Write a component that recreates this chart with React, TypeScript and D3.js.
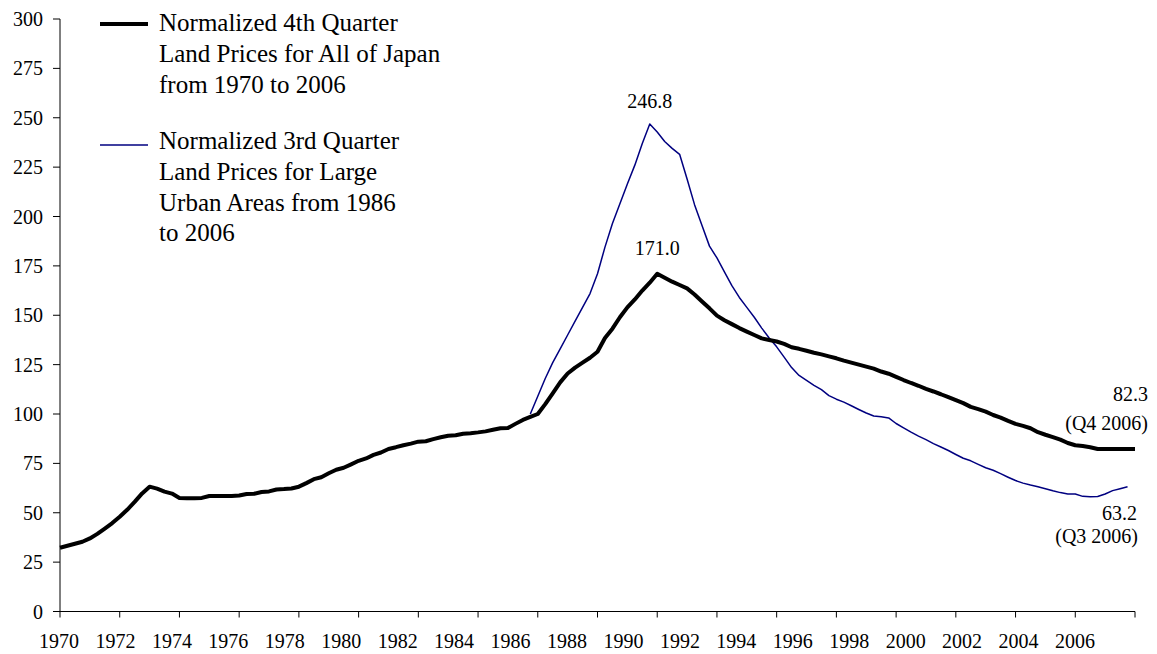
import React from "react";
import * as d3 from "d3";

// Quarterly index 0..144 (black), blue series starts at index 63
const allJapan: number[] = [
  32.3, 33.3, 34.3, 35.3, 37.0, 39.3, 42.0, 44.8, 48.0, 51.5,
  55.5, 59.8, 63.2, 62.2, 60.7, 59.7, 57.5, 57.3, 57.3, 57.5,
  58.5, 58.5, 58.5, 58.5, 58.7, 59.5, 59.6, 60.5, 60.8, 61.8,
  62.0, 62.3, 63.2, 65.0, 67.0, 68.0, 70.0, 71.8, 72.8, 74.5,
  76.3, 77.5, 79.3, 80.5, 82.3, 83.2, 84.2, 85.0, 86.0, 86.2,
  87.3, 88.2, 89.0, 89.2, 90.0, 90.3, 90.7, 91.2, 92.0, 92.8,
  92.9, 95.0, 97.0, 98.5, 100.0, 105.0, 110.5, 116.0, 120.5, 123.5,
  126.0, 128.5, 131.5, 138.5, 143.2, 149.0, 154.0, 158.0, 162.5, 166.5,
  171.0, 169.0, 167.0, 165.3, 163.6, 160.5, 157.0, 153.5, 149.8, 147.5,
  145.5, 143.5, 141.7, 140.0, 138.3, 137.5, 136.7, 135.5, 133.8, 133.0,
  132.0, 131.0, 130.2, 129.2, 128.2, 127.0, 126.0, 125.0, 124.0, 123.0,
  121.5, 120.4, 118.8, 117.2, 115.7, 114.3, 112.7, 111.4, 110.0, 108.5,
  107.0, 105.5, 103.6, 102.5, 101.2, 99.5, 98.2, 96.5, 95.0, 94.0,
  92.8, 90.8, 89.5, 88.3, 87.0, 85.3, 84.2, 83.8, 83.2, 82.3,
  82.3, 82.3, 82.3, 82.3, 82.3,
];

const urbanStart = 63;
const urbanAreas: number[] = [
  100.0, 109.0, 118.0, 126.0, 133.0, 140.0, 147.0, 154.0, 161.0, 171.0,
  184.5, 196.5, 206.5, 216.5, 226.0, 237.0, 246.8, 242.8, 238.0, 234.5,
  231.5, 219.0, 206.0, 195.5, 185.0, 179.0, 172.0, 165.0, 159.0, 154.0,
  149.0, 143.5, 138.5, 134.0, 128.8, 123.5, 119.5, 117.0, 114.5, 112.3,
  109.3, 107.5, 106.0, 104.2, 102.3, 100.5, 99.0, 98.6, 98.0, 95.2,
  93.0, 90.8, 88.8, 87.0, 85.0, 83.3, 81.5, 79.5, 77.6, 76.3,
  74.5, 72.8, 71.5, 69.8, 68.0, 66.3, 65.0, 64.0, 63.2, 62.2,
  61.1, 60.2, 59.5, 59.5, 58.3, 58.1, 58.2, 59.5, 61.2, 62.2,
  63.2,
];

const yearLabels: string[] = [
  "1970", "1972", "1974", "1976", "1978", "1980", "1982", "1984", "1986", "1988",
  "1990", "1992", "1994", "1996", "1998", "2000", "2002", "2004", "2006",
];
const yTicks: number[] = [0, 25, 50, 75, 100, 125, 150, 175, 200, 225, 250, 275, 300];

const legend1: string[] = [
  "Normalized 4th Quarter",
  "Land Prices for All of Japan",
  "from 1970 to 2006",
];
const legend2: string[] = [
  "Normalized 3rd Quarter",
  "Land Prices for Large",
  "Urban Areas from 1986",
  "to 2006",
];

const FONT = "'Liberation Serif', 'Times New Roman', serif";
const BLUE = "#000080";

export default function App() {
  const W = 1157;
  const H = 654;
  const x0 = 60, x1 = 1135, y0 = 611.5, y1 = 19;
  const x = d3.scaleLinear().domain([0, allJapan.length - 1]).range([x0, x1]);
  const y = d3.scaleLinear().domain([0, 300]).range([y0, y1]);
  const labelX = d3.scalePoint<string>().domain(yearLabels).range([59, 1075]);
  const tickIdx = d3.range(0, allJapan.length, 8);

  const line = d3
    .line<[number, number]>()
    .x((d) => x(d[0]))
    .y((d) => y(d[1]));

  const blackPts: [number, number][] = allJapan.map((v, i) => [i, v]);
  const bluePts: [number, number][] = urbanAreas.map((v, i) => [i + urbanStart, v]);

  const blackMaxI = d3.maxIndex(allJapan);
  const blueMaxI = d3.maxIndex(urbanAreas);

  return (
    <svg
      width={W}
      height={H}
      style={{ position: "absolute", left: 0, top: 0, background: "#fff" }}
      fontFamily={FONT}
    >
      {/* Y axis */}
      <line x1={x0} x2={x0} y1={y1} y2={y0} stroke="#000" strokeWidth={1} />
      {yTicks.map((t) => (
        <g key={t}>
          <line x1={x0 - 7} x2={x0} y1={y(t)} y2={y(t)} stroke="#000" />
          <text x={43} y={y(t)} dy="0.35em" textAnchor="end" fontSize={20}>
            {t}
          </text>
        </g>
      ))}
      {/* X axis */}
      <line x1={x0} x2={x1} y1={y0} y2={y0} stroke="#000" strokeWidth={1} />
      {tickIdx.map((i) => (
        <line key={i} x1={x(i)} x2={x(i)} y1={y0} y2={y0 + 6} stroke="#000" />
      ))}
      {yearLabels.map((l) => (
        <text key={l} x={labelX(l)} y={648} textAnchor="middle" fontSize={20}>
          {l}
        </text>
      ))}

      {/* Lines */}
      <path d={line(bluePts) || ""} fill="none" stroke={BLUE} strokeWidth={1.5} strokeLinejoin="round" />
      <path d={line(blackPts) || ""} fill="none" stroke="#000" strokeWidth={4} strokeLinejoin="round" />

      {/* Legend */}
      <line x1={100} x2={148} y1={24} y2={24} stroke="#000" strokeWidth={4} />
      {legend1.map((s, k) => (
        <text key={s} x={159} y={31 + k * 31} fontSize={25}>
          {s}
        </text>
      ))}
      <line x1={100} x2={148} y1={145} y2={145} stroke={BLUE} strokeWidth={1.5} />
      {legend2.map((s, k) => (
        <text key={s} x={159} y={149 + k * 30.8} fontSize={25}>
          {s}
        </text>
      ))}

      {/* Annotations */}
      <text x={x(blueMaxI + urbanStart)} y={108} textAnchor="middle" fontSize={20}>
        {urbanAreas[blueMaxI].toFixed(1)}
      </text>
      <text x={x(blackMaxI)} y={255} textAnchor="middle" fontSize={20}>
        {allJapan[blackMaxI].toFixed(1)}
      </text>
      <text x={1148} y={401} textAnchor="end" fontSize={20}>
        {allJapan[allJapan.length - 1].toFixed(1)}
      </text>
      <text x={1148} y={430} textAnchor="end" fontSize={20}>
        (Q4 2006)
      </text>
      <text x={1137} y={520} textAnchor="end" fontSize={20}>
        {urbanAreas[urbanAreas.length - 1].toFixed(1)}
      </text>
      <text x={1138} y={543} textAnchor="end" fontSize={20}>
        (Q3 2006)
      </text>
    </svg>
  );
}
